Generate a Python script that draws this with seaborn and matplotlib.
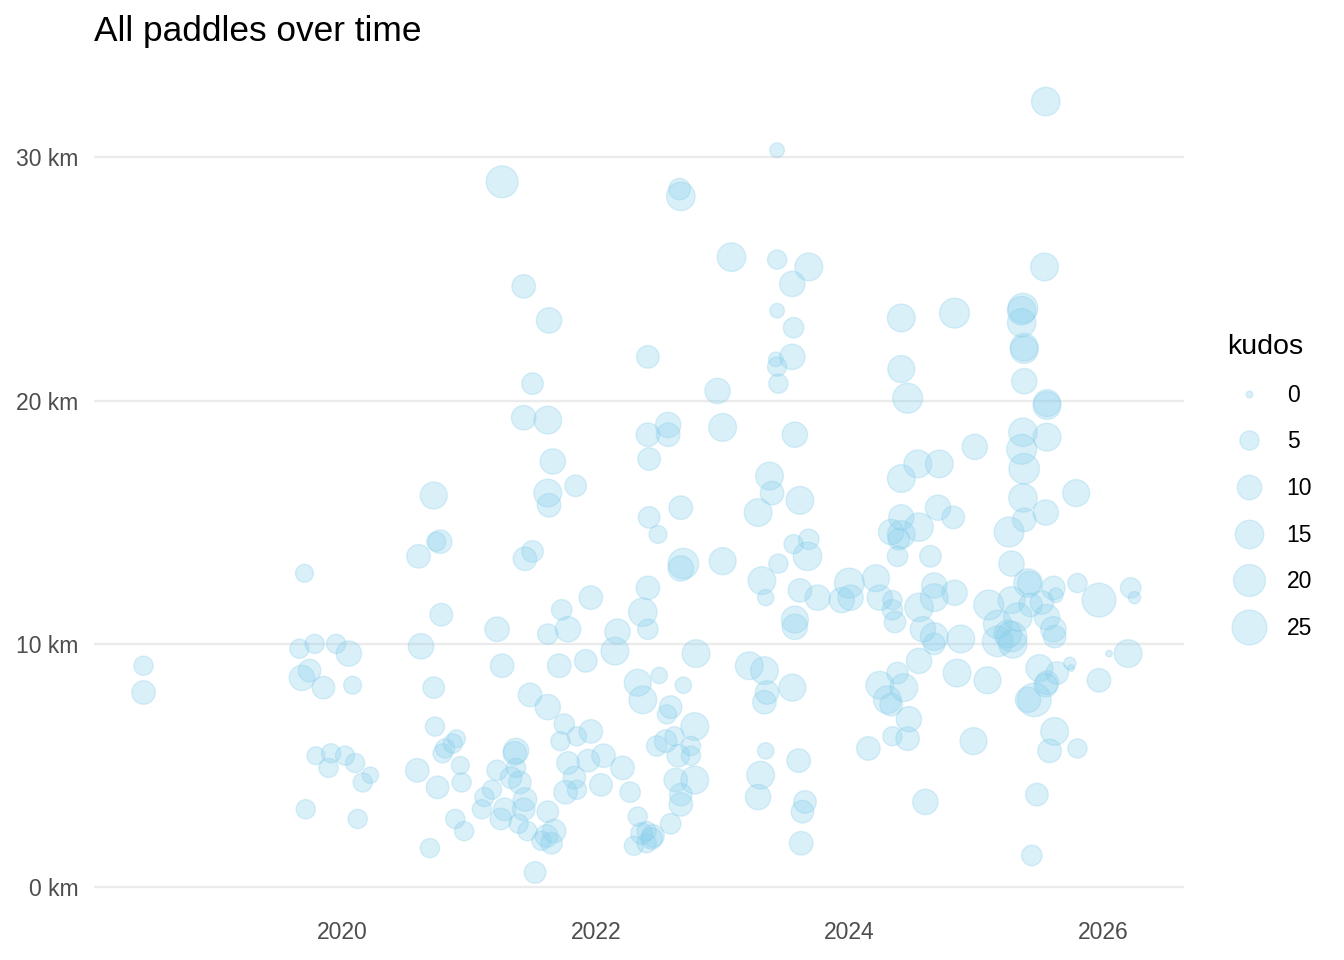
import numpy as np
import pandas as pd
import matplotlib
matplotlib.use('Agg')
import matplotlib.pyplot as plt
from matplotlib.lines import Line2D
from matplotlib.ticker import FuncFormatter
import seaborn as sns

# ── Paddle data ──────────────────────────────────────────────
# date as decimal year, distance in km, kudos received
years = [
    2018.43, 2018.43,
    2019.70, 2019.66, 2019.78, 2019.95, 2020.05, 2019.74, 2019.68, 2019.85, 2020.08,
    2019.79, 2019.91, 2020.02, 2019.89, 2020.10, 2020.16, 2020.22, 2019.71, 2020.12,
    2020.72, 2020.77, 2020.74, 2020.60, 2020.78, 2021.22, 2020.62, 2021.26, 2020.72, 2020.73,
    2020.90, 2020.87, 2020.81, 2020.79, 2020.93, 2020.59, 2020.75, 2020.94, 2020.89, 2020.96, 2020.69,
    2021.26, 2022.66, 2022.67, 2023.07, 2021.43, 2021.63, 2022.41, 2021.50, 2022.96, 2021.43,
    2021.62, 2022.41, 2022.57, 2022.57, 2022.42, 2023.00, 2021.66, 2021.62, 2021.63, 2021.84,
    2022.42, 2022.49, 2022.67, 2021.50, 2021.44, 2022.69, 2022.67, 2023.00,
    2021.73, 2021.96, 2022.41, 2022.37, 2022.41, 2021.62, 2021.78, 2022.17, 2022.15, 2022.79,
    2021.71, 2021.92, 2022.33, 2022.37, 2022.50, 2022.69, 2021.48, 2021.62, 2021.75, 2021.72,
    2021.85, 2021.96, 2022.06, 2021.94, 2021.78, 2021.83, 2021.76, 2021.85, 2022.04, 2022.21,
    2022.27, 2022.33, 2022.30, 2022.36, 2022.45, 2022.40, 2022.44, 2022.59, 2022.78, 2022.56,
    2022.59, 2022.48, 2022.55, 2022.62, 2022.65, 2022.75, 2022.75, 2022.78, 2022.63, 2022.67,
    2022.67, 2022.40,
    2021.22, 2021.12, 2021.10, 2021.18, 2021.25, 2021.28, 2021.36, 2021.37, 2021.37, 2021.33,
    2021.40, 2021.44, 2021.43, 2021.39, 2021.46, 2021.62, 2021.67, 2021.61, 2021.65, 2021.57, 2021.52,
    2023.43, 2023.43, 2023.68, 2023.55, 2023.43, 2023.56, 2023.42, 2023.43, 2023.55, 2023.44,
    2024.41, 2024.83, 2024.41, 2024.46, 2023.57, 2023.37, 2023.39, 2023.61, 2024.41, 2024.54, 2024.71,
    2023.28, 2023.56, 2023.68, 2023.67, 2023.44, 2023.31, 2023.34, 2023.61, 2023.75, 2024.00,
    2023.94, 2024.01, 2024.21, 2024.24, 2024.34, 2024.34, 2024.36, 2023.57, 2023.57, 2024.41,
    2024.33, 2024.41, 2024.55, 2024.39, 2024.38, 2024.70, 2024.82, 2024.64, 2024.67, 2024.67,
    2024.83, 2024.55, 2024.58, 2024.67, 2024.67, 2024.88, 2023.21, 2023.33, 2023.35, 2023.33,
    2023.55, 2024.55, 2024.85, 2024.24, 2024.38, 2024.43, 2024.30, 2024.33, 2024.47, 2024.34,
    2024.46, 2024.15, 2024.98, 2023.34, 2023.60, 2023.30, 2023.28, 2023.65, 2023.63, 2023.62,
    2024.60,
    2025.55, 2025.54, 2025.37, 2025.36, 2025.36, 2025.38, 2025.38, 2025.38, 2025.56, 2025.56,
    2025.37, 2025.56, 2024.99, 2025.36, 2025.38, 2025.37, 2025.79, 2025.38, 2025.55, 2025.26,
    2025.28, 2025.41, 2025.42, 2025.61, 2025.63, 2025.80, 2025.97, 2026.22, 2026.25, 2025.10,
    2025.28, 2025.43, 2025.52, 2025.17, 2025.33, 2025.56, 2025.61, 2025.62, 2025.17, 2025.28,
    2025.29, 2025.25, 2026.05, 2026.20, 2025.74, 2025.75, 2025.50, 2025.64, 2025.56, 2025.55,
    2025.41, 2025.46, 2025.09, 2025.97, 2025.62, 2025.58, 2025.80, 2025.48, 2025.44,
]

distance_km = [
    9.1, 8.0,
    12.9, 9.8, 10.0, 10.0, 9.6, 8.9, 8.6, 8.2, 8.3,
    5.4, 5.5, 5.4, 4.9, 5.1, 4.3, 4.6, 3.2, 2.8,
    16.1, 14.2, 14.2, 13.6, 11.2, 10.6, 9.9, 9.1, 8.2, 6.6,
    6.1, 5.9, 5.7, 5.5, 5.0, 4.8, 4.1, 4.3, 2.8, 2.3, 1.6,
    29.0, 28.7, 28.4, 25.9, 24.7, 23.3, 21.8, 20.7, 20.4, 19.3,
    19.2, 18.6, 19.0, 18.6, 17.6, 18.9, 17.5, 16.2, 15.7, 16.5,
    15.2, 14.5, 15.6, 13.8, 13.5, 13.3, 13.1, 13.4,
    11.4, 11.9, 12.3, 11.3, 10.6, 10.4, 10.6, 10.5, 9.7, 9.6,
    9.1, 9.3, 8.4, 7.7, 8.7, 8.3, 7.9, 7.4, 6.7, 6.0,
    6.2, 6.4, 5.4, 5.2, 5.1, 4.5, 3.9, 4.0, 4.2, 4.9,
    3.9, 2.9, 1.7, 2.2, 2.1, 2.3, 2.0, 2.6, 6.6, 7.1,
    7.4, 5.8, 6.0, 6.2, 5.4, 5.4, 5.8, 4.4, 4.4, 3.8,
    3.4, 1.8,
    4.8, 3.7, 3.2, 4.0, 2.8, 3.2, 5.5, 5.6, 4.9, 4.5,
    4.3, 3.6, 3.2, 2.6, 2.3, 3.1, 2.3, 2.1, 1.8, 1.9, 0.6,
    30.3, 25.8, 25.5, 24.8, 23.7, 23.0, 21.7, 21.4, 21.8, 20.7,
    23.4, 23.6, 21.3, 20.1, 18.6, 16.9, 16.2, 15.9, 16.8, 17.4, 17.4,
    15.4, 14.1, 14.3, 13.6, 13.3, 12.6, 11.9, 12.2, 11.9, 12.5,
    11.8, 11.9, 12.7, 11.9, 11.8, 11.4, 10.9, 11.0, 10.7, 15.2,
    14.6, 14.5, 14.8, 14.3, 13.6, 15.6, 15.2, 13.6, 12.4, 11.9,
    12.1, 11.5, 10.6, 10.3, 10.0, 10.2, 9.1, 8.9, 8.0, 7.6,
    8.2, 9.3, 8.8, 8.3, 8.8, 8.2, 7.7, 7.5, 6.9, 6.2,
    6.1, 5.7, 6.0, 5.6, 5.2, 4.6, 3.7, 3.5, 3.1, 1.8,
    3.5,
    32.3, 25.5, 23.8, 23.7, 23.2, 22.2, 22.1, 20.8, 19.9, 19.8,
    18.7, 18.5, 18.1, 18.0, 17.2, 16.0, 16.2, 15.1, 15.4, 14.6,
    13.3, 12.5, 12.5, 12.3, 12.0, 12.5, 11.8, 12.3, 11.9, 11.6,
    11.8, 11.6, 11.7, 10.8, 11.1, 11.1, 10.6, 10.3, 10.1, 10.3,
    10.0, 10.4, 9.6, 9.6, 9.2, 9.0, 9.0, 8.8, 8.4, 8.3,
    7.7, 7.7, 8.5, 8.5, 6.4, 5.6, 5.7, 3.8, 1.3,
]

kudos = [
    5, 9,
    4, 5, 5, 5, 11, 8, 11, 8, 4,
    4, 5, 5, 5, 5, 5, 3, 5, 5,
    13, 9, 5, 9, 8, 10, 11, 9, 7, 5,
    4, 5, 5, 5, 4, 9, 8, 5, 5, 5, 5,
    20, 7, 15, 15, 9, 11, 8, 7, 11, 10,
    14, 9, 11, 9, 8, 14, 11, 14, 9, 7,
    7, 4, 9, 7, 9, 18, 11, 13,
    6, 9, 9, 15, 6, 6, 11, 11, 14, 14,
    9, 8, 13, 14, 3, 3, 9, 11, 6, 5,
    5, 9, 9, 8, 8, 8, 9, 5, 8, 9,
    6, 5, 5, 7, 8, 5, 7, 6, 14, 5,
    8, 6, 8, 5, 8, 5, 5, 14, 9, 8,
    9, 5,
    6, 5, 5, 5, 7, 8, 9, 11, 5, 7,
    8, 9, 8, 5, 5, 7, 9, 8, 7, 5, 7,
    2, 5, 14, 11, 2, 6, 2, 5, 11, 5,
    14, 17, 13, 17, 11, 14, 9, 14, 14, 14, 14,
    14, 5, 6, 15, 5, 14, 3, 9, 11, 17,
    11, 11, 13, 11, 5, 6, 7, 13, 11, 11,
    11, 14, 15, 7, 6, 11, 8, 7, 11, 14,
    11, 15, 11, 14, 7, 14, 14, 14, 9, 9,
    13, 11, 14, 14, 7, 14, 14, 8, 11, 5,
    9, 9, 13, 3, 9, 14, 11, 8, 8, 9,
    11,
    15, 14, 17, 15, 15, 14, 14, 11, 13, 14,
    15, 14, 11, 17, 18, 15, 13, 9, 11, 17,
    11, 15, 9, 9, 2, 5, 23, 6, 1, 17,
    13, 9, 9, 15, 15, 11, 11, 8, 18, 18,
    15, 14, 0, 14, 1, 0, 13, 8, 9, 9,
    11, 23, 13, 9, 14, 9, 5, 8, 6,
]

legend_breaks = [0, 5, 10, 15, 20, 25]
x_ticks = [2020, 2022, 2024, 2026]
y_ticks = [0, 10, 20, 30]

df = pd.DataFrame({'year': years, 'distance_km': distance_km, 'kudos': kudos})

# ── Style ─────────────────────────────────────────────────────
sns.set_theme(style='white')
plt.rcParams['font.family'] = ['Liberation Sans', 'DejaVu Sans']

DOT = '#87CEEB'
PX_PER_PT = 100 / 72
EDGE_W = 1.0


def dot_area(k):
    # circle area grows with kudos, a bare dot for zero kudos
    d_px = 8 + 5.65 * np.sqrt(k)
    return (d_px / PX_PER_PT - EDGE_W) ** 2


size_map = {k: dot_area(k) for k in sorted(df['kudos'].unique())}

# ── Chart ─────────────────────────────────────────────────────
fig = plt.figure(figsize=(13.44, 9.6), dpi=100)
ax = fig.add_axes([94 / 1344, 1 - 911 / 960, 1090 / 1344, 848 / 960])

sns.scatterplot(data=df, x='year', y='distance_km', size='kudos', sizes=size_map,
                color=DOT, edgecolor=DOT, linewidth=EDGE_W, alpha=0.3,
                legend=False, ax=ax)

ax.margins(x=0.05, y=0.05)
ax.set_xticks(x_ticks)
ax.set_yticks(y_ticks)
ax.xaxis.set_major_formatter(FuncFormatter(lambda v, _: f'{v:.0f}'))
ax.yaxis.set_major_formatter(FuncFormatter(lambda v, _: f'{v:.0f} km'))
ax.tick_params(length=0, labelsize=16.5, labelcolor='#4D4D4D')
ax.tick_params(axis='y', pad=11)
ax.tick_params(axis='x', pad=7)
ax.yaxis.grid(True, color='#EBEBEB', linewidth=1.7)
ax.xaxis.grid(False)
ax.set_axisbelow(True)
ax.set_xlabel('')
ax.set_ylabel('')
sns.despine(ax=ax, left=True, bottom=True)

fig.text(94 / 1344, 1 - 41 / 960, 'All paddles over time', fontsize=25.4,
         ha='left', va='baseline', color='black')

handles = [Line2D([], [], linestyle='', marker='o', markersize=np.sqrt(dot_area(k)),
                  markerfacecolor=DOT, markeredgecolor=DOT,
                  markeredgewidth=EDGE_W, alpha=0.3) for k in legend_breaks]
leg = ax.legend(handles, [str(k) for k in legend_breaks], title='kudos',
                loc='center left', bbox_to_anchor=(1.04, 0.5), frameon=False,
                fontsize=16.5, title_fontsize=20.5, handlelength=1.86,
                handletextpad=0.72, labelspacing=1.03, borderpad=0,
                borderaxespad=0, alignment='left')
leg.get_title().set_color('black')
for txt in leg.get_texts():
    txt.set_color('black')

plt.savefig('out.png', dpi=100)
plt.close()
